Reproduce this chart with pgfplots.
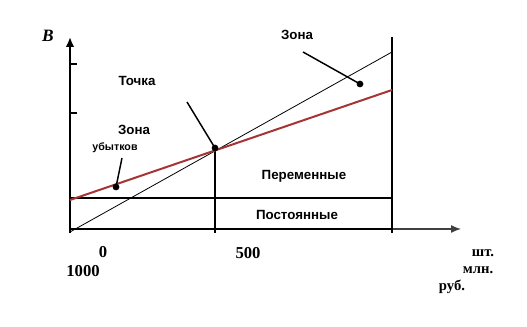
\documentclass[border=0pt]{standalone}
\usepackage{fontspec}
\setmainfont{Liberation Serif}
\newfontfamily\sansf{Liberation Sans}
\usepackage{pgfplots}
\pgfplotsset{compat=1.18}
\usetikzlibrary{arrows.meta}
\definecolor{costred}{RGB}{165,52,52}
\begin{document}
\begin{tikzpicture}
\begin{axis}[
  x=0.75pt, y=0.75pt,
  xmin=-70, xmax=457, ymin=-98, ymax=229,
  hide axis, clip=false,
]
\path (axis cs:-70,-98) rectangle (axis cs:457,229);
% axes
\addplot[black, line width=1.5pt, -{Latex[length=7.5pt,width=6.5pt]}] coordinates {(0,-4) (0,192)};
\addplot[black, line width=1.3pt] coordinates {(0,0) (322,0)};
\addplot[black!75, line width=1pt, -{Latex[length=7.5pt,width=6pt]}] coordinates {(322,0) (391,0)};
% y ticks
\addplot[black, line width=0.8pt] coordinates {(0,165) (7,165)};
\addplot[black, line width=0.8pt] coordinates {(0,116) (7,116)};
% fixed costs
\addplot[black, line width=1.3pt] coordinates {(0,31) (322,31)};
% capacity line
\addplot[black, line width=1.5pt] coordinates {(322,-4) (322,192)};
% break-even vertical
\addplot[black, line width=0.8pt] coordinates {(145,-4) (145,81)};
% revenue (thin black)
\addplot[black, line width=0.6pt] coordinates {(0,-3) (322,177)};
% total cost (red)
\addplot[costred, line width=1.5pt] coordinates {(0,29) (322,139)};
% leader lines
\addplot[black, line width=1.1pt] coordinates {(117,127) (145,81)};
\addplot[black, line width=1.1pt] coordinates {(233,177) (290,145)};
\addplot[black, line width=1.1pt] coordinates {(52,71) (46,42)};
% dots
\addplot[only marks, mark=*, mark size=2.3pt, black] coordinates {(145,81) (290,145) (46,42)};
% texts
\node[font=\bfseries\itshape\fontsize{13}{14}\selectfont] at (axis cs:-22,193) {В};
\node[font=\sansf\bfseries\fontsize{10}{12}\selectfont] at (axis cs:67,148) {Точка};
\node[font=\sansf\bfseries\fontsize{10}{12}\selectfont] at (axis cs:64,99) {Зона};
\node[font=\sansf\bfseries\fontsize{8}{9}\selectfont] at (axis cs:45,81) {убытков};
\node[font=\sansf\bfseries\fontsize{10}{12}\selectfont] at (axis cs:227,194) {Зона};
\node[font=\sansf\bfseries\fontsize{10}{12}\selectfont] at (axis cs:234,53) {Переменные};
\node[font=\sansf\bfseries\fontsize{10}{12}\selectfont] at (axis cs:227,14) {Постоянные};
\node[font=\bfseries\fontsize{12.5}{14}\selectfont] at (axis cs:33,-23) {0};
\node[font=\bfseries\fontsize{12.5}{14}\selectfont] at (axis cs:178,-24) {500};
\node[font=\bfseries\fontsize{12.5}{14}\selectfont] at (axis cs:13,-42) {1000};
\node[font=\bfseries\fontsize{11}{13}\selectfont] at (axis cs:413,-24) {шт.};
\node[font=\bfseries\fontsize{11}{13}\selectfont] at (axis cs:408,-41) {млн.};
\node[font=\bfseries\fontsize{11}{13}\selectfont] at (axis cs:382,-58) {руб.};
\end{axis}
\end{tikzpicture}
\end{document}
